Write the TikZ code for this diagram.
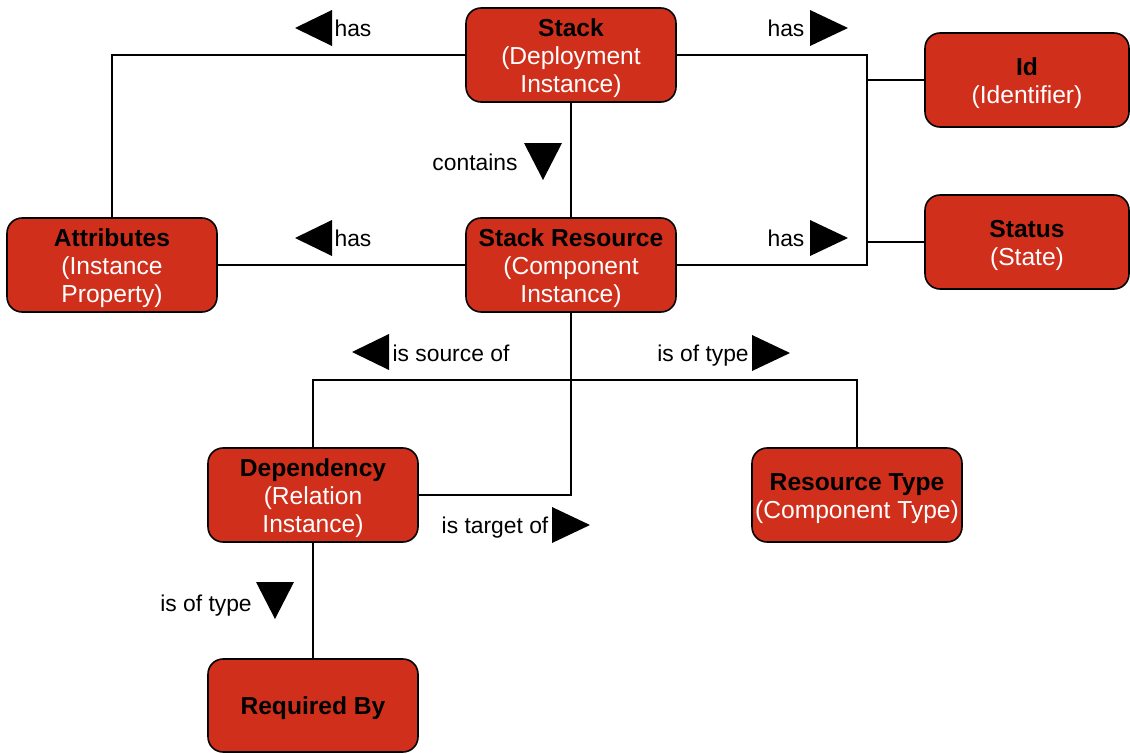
\documentclass[tikz,border=0pt]{standalone}
\usepackage{fontspec}
\setmainfont{Liberation Sans}
\usepackage{tikz}
\definecolor{boxred}{RGB}{208,47,28}

\tikzset{
  entity/.style={draw=black, line width=0.9pt, fill=boxred, rounded corners=0.3cm,
    minimum width=4.2cm, minimum height=1.88cm, inner sep=0pt, align=center,
    text=white, font=\fontsize{14}{16}\selectfont},
  link/.style={draw=black, line width=0.85pt},
  rel/.style={font=\fontsize{13}{15}\selectfont, inner sep=0pt},
}
\newcommand{\ename}[1]{\rule{0pt}{13.6pt}{\bfseries\color{black}#1}}

\begin{document}
\begin{tikzpicture}[x=0.02cm, y=-0.02cm]
	  \useasboundingbox (0,0) rectangle (1130,754);
	  % entities
	  \node[entity] (stack) at (571,55) {\ename{Stack}\\(Deployment\\Instance)};
	  \node[entity, minimum width=4.08cm] (id) at (1027,80) {\ename{Id}\\(Identifier)};
	  \node[entity] (attr) at (112,265) {\ename{Attributes}\\(Instance\\Property)};
	  \node[entity] (res) at (571,265) {\ename{Stack Resource}\\(Component\\Instance)};
	  \node[entity, minimum width=4.08cm] (status) at (1027,242) {\ename{Status}\\(State)};
	  \node[entity] (dep) at (313,495) {\ename{Dependency}\\(Relation\\Instance)};
	  \node[entity] (rtype) at (857,495) {\ename{Resource Type}\\(Component Type)};
	  \node[entity, minimum height=1.86cm] (req) at (313,705.5) {\ename{Required By}};
	  % junctions
	  \coordinate (bustop) at (867,55);
	  \coordinate (busbot) at (867,265);
	  \coordinate (split) at (571,380);
	  % connectors
	  \draw[link] (stack.west) -| (attr.north);
	  \draw[link] (stack.east) -- (bustop) -- (busbot) -- (res.east);
	  \draw[link] (id.west) -- (id.west -| bustop);
	  \draw[link, line width=1.4pt] (status.west) -- (status.west -| bustop);
	  \draw[link] (stack.south) -- (res.north);
	  \draw[link] (attr.east) -- (res.west);
	  \draw[link] (res.south) -- (split);
	  \draw[link] (dep.north) |- (split) -| (rtype.north);
	  \draw[link] (split) |- (dep.east);
	  \draw[link] (dep.south) -- (req.north);
	  % relation labels
	  \node[rel] (l1) at (353,28) {has};
	  \fill (295,28) -- ++(37,-18) -- ++(0,36) -- cycle;
	  \node[rel] (l2) at (786,28) {has};
	  \fill (848,28) -- ++(-38,-18) -- ++(0,36) -- cycle;
	  \node[rel] (l3) at (475,162) {contains};
	  \fill (543,180) -- ++(-19,-37) -- ++(38,0) -- cycle;
	  \node[rel] (l4) at (353,238) {has};
	  \fill (295,238) -- ++(37,-18) -- ++(0,36) -- cycle;
	  \node[rel] (l5) at (786,238) {has};
	  \fill (848,238) -- ++(-38,-18) -- ++(0,36) -- cycle;
	  \node[rel] (l6) at (451,353) {is source of};
	  \fill (352,352) -- ++(37,-18) -- ++(0,36) -- cycle;
	  \node[rel] (l7) at (703,356) {is of type};
	  \fill (790,353) -- ++(-38,-18) -- ++(0,36) -- cycle;
	  \node[rel] (l8) at (495,528) {is target of};
	  \fill (590,525) -- ++(-38,-18) -- ++(0,36) -- cycle;
	  \node[rel] (l9) at (206,606) {is of type};
	  \fill (275,619) -- ++(-19,-37) -- ++(38,0) -- cycle;
	\end{tikzpicture}
\end{document}
